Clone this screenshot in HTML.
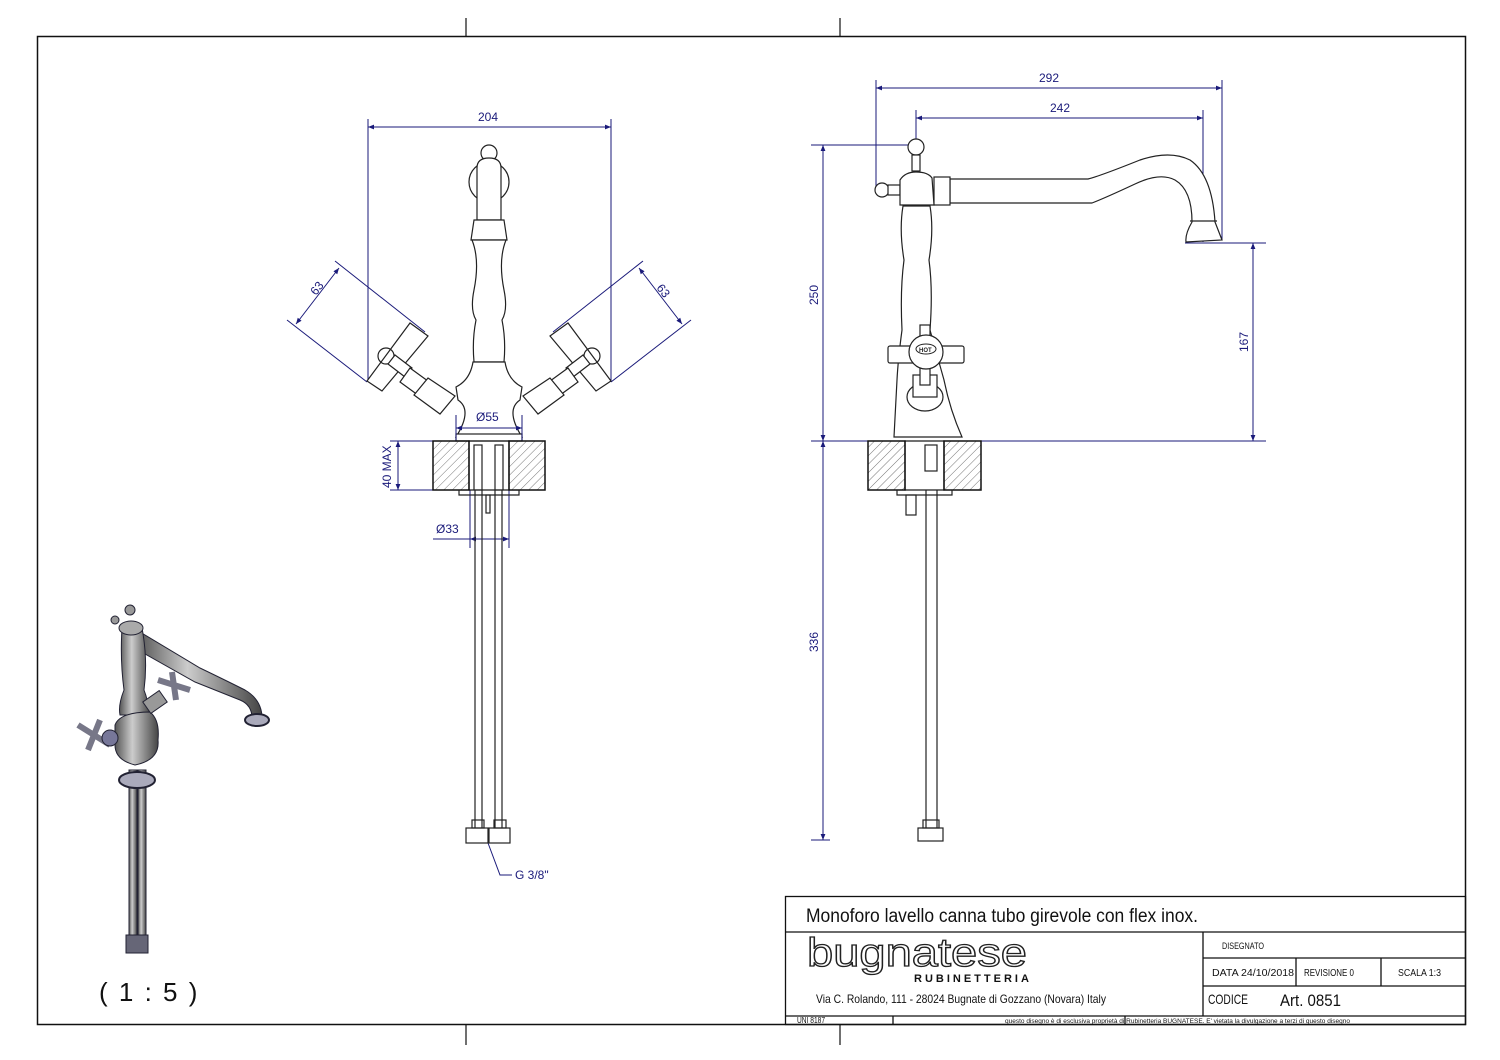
<!DOCTYPE html>
<html><head><meta charset="utf-8"><style>
html,body{margin:0;padding:0;background:#fff;}
svg{display:block;}
text{font-family:"Liberation Sans",sans-serif;}
.d{stroke:#1a1a7a;stroke-width:1;fill:none;}
.dt{fill:#1a1a7a;font-size:12px;}
.o{stroke:#222;stroke-width:1.2;fill:#fff;}
.ol{stroke:#222;stroke-width:1.2;fill:none;}
.t{fill:#111;}
</style></head><body>
<svg width="1500" height="1060" viewBox="0 0 1500 1060" xmlns="http://www.w3.org/2000/svg">
<defs>
<pattern id="h" width="6" height="6" patternUnits="userSpaceOnUse" patternTransform="rotate(45)">
<line x1="0" y1="0" x2="0" y2="6" stroke="#777" stroke-width="1"/></pattern>
<marker id="a" viewBox="0 0 10 10" refX="10" refY="5" markerWidth="8" markerHeight="6" orient="auto-start-reverse">
<path d="M0,1 L10,5 L0,9 z" fill="#1a1a7a"/></marker>
<linearGradient id="g" x1="0" x2="1"><stop offset="0" stop-color="#555"/><stop offset="0.4" stop-color="#ccc"/><stop offset="1" stop-color="#444"/></linearGradient>
</defs>
<rect width="1500" height="1060" fill="#fff"/>
<rect x="37.5" y="36.5" width="1428" height="988" fill="none" stroke="#111" stroke-width="1.5"/>
<g stroke="#111" stroke-width="1.2">
<line x1="466" y1="18" x2="466" y2="36"/><line x1="840" y1="18" x2="840" y2="36"/>
<line x1="466" y1="1025" x2="466" y2="1045"/><line x1="840" y1="1025" x2="840" y2="1045"/>
</g>

<!-- FRONT VIEW -->
<g class="d">
<line x1="368" y1="119" x2="368" y2="382"/><line x1="611" y1="119" x2="611" y2="382"/>
<line x1="368" y1="127" x2="611" y2="127" marker-start="url(#a)" marker-end="url(#a)"/>
<line x1="335" y1="261" x2="425" y2="332"/><line x1="287" y1="320" x2="367" y2="382"/>
<line x1="339" y1="268" x2="296" y2="324" marker-start="url(#a)" marker-end="url(#a)"/>
<line x1="643" y1="261" x2="553" y2="332"/><line x1="691" y1="320" x2="611" y2="382"/>
<line x1="639" y1="268" x2="682" y2="324" marker-start="url(#a)" marker-end="url(#a)"/>
<line x1="390" y1="441" x2="433" y2="441"/><line x1="390" y1="490" x2="433" y2="490"/>
<line x1="398" y1="441" x2="398" y2="490" marker-start="url(#a)" marker-end="url(#a)"/>
<line x1="470" y1="490" x2="470" y2="548"/><line x1="509" y1="490" x2="509" y2="548"/>
<line x1="433" y1="539" x2="509" y2="539"/>
<line x1="470" y1="539" x2="509" y2="539" marker-start="url(#a)" marker-end="url(#a)"/>
<polyline points="488,843 500,875 512,875"/>
</g>
<text class="dt" x="478" y="121">204</text>
<text class="dt" transform="translate(316,296) rotate(-52)">63</text>
<text class="dt" transform="translate(656,288) rotate(52)">63</text>
<text class="dt" transform="translate(391,488) rotate(-90)">40 MAX</text>
<text class="dt" x="436" y="533">Ø33</text>
<text class="dt" x="515" y="879">G 3/8"</text>

<g>
<circle class="o" cx="489" cy="153" r="8"/>
<path class="o" d="M469,182 a20,20 0 0 1 40,0 a20,20 0 0 1 -40,0z"/>
<path class="o" d="M477,220 L477,168 Q477,158 489,158 Q501,158 501,168 L501,220z"/>
<path class="o" d="M474,220 L504,220 L507,240 L471,240z"/>
<path class="o" d="M472,240 Q480,260 474,290 Q470,310 476,320 Q472,340 474,362 L504,362 Q506,340 502,320 Q508,310 504,290 Q498,260 506,240z"/>
<path class="o" d="M473,362 L505,362 Q508,380 522,387 L520,400 Q505,410 522,437 L456,437 Q473,410 458,400 L456,387 Q470,380 473,362z"/>
<rect class="o" x="456" y="434" width="66" height="7"/>
<polygon class="o" points="367,381 410,323 428,336 382,391"/>
<circle class="ol" cx="386" cy="356" r="8"/>
<path class="o" d="M395,355 L412,368 L405,377 L388,364z"/>
<path class="o" d="M410,368 L432,384 L422,398 L400,382z"/>
<path class="o" d="M428,378 L455,396 L440,414 L414,395z"/>
<polygon class="o" points="611,381 568,323 550,336 596,391"/>
<circle class="ol" cx="592" cy="356" r="8"/>
<path class="o" d="M583,355 L566,368 L573,377 L590,364z"/>
<path class="o" d="M568,368 L546,384 L556,398 L578,382z"/>
<path class="o" d="M550,378 L523,396 L538,414 L564,395z"/>
</g>
<!-- Ø55 dim on top -->
<g class="d">
<line x1="456" y1="415" x2="456" y2="441"/><line x1="522" y1="415" x2="522" y2="441"/>
<line x1="456" y1="428" x2="522" y2="428" marker-start="url(#a)" marker-end="url(#a)"/>
</g>
<text class="dt" x="476" y="421">Ø55</text>

<rect x="433" y="441" width="36" height="49" fill="url(#h)" stroke="#111" stroke-width="1.5"/>
<rect x="509" y="441" width="36" height="49" fill="url(#h)" stroke="#111" stroke-width="1.5"/>
<rect x="469" y="441" width="40" height="49" fill="none" stroke="#111" stroke-width="1.2"/>
<g class="ol">
<rect x="474" y="445" width="8" height="45"/><rect x="495" y="445" width="8" height="45"/>
<path d="M459,490 L459,495 L519,495 L519,490"/>
<line x1="475" y1="490" x2="475" y2="828"/><line x1="482" y1="490" x2="482" y2="828"/>
<line x1="495" y1="490" x2="495" y2="828"/><line x1="502" y1="490" x2="502" y2="828"/>
<rect x="486" y="495" width="4" height="18"/>
<rect x="472" y="820" width="12" height="8"/><rect x="494" y="820" width="12" height="8"/>
<rect x="466" y="828" width="22" height="15"/><rect x="489" y="828" width="21" height="15"/>
</g>

<!-- SIDE VIEW -->
<g class="d">
<line x1="876" y1="80" x2="876" y2="186"/><line x1="1222" y1="80" x2="1222" y2="240"/>
<line x1="876" y1="88" x2="1222" y2="88" marker-start="url(#a)" marker-end="url(#a)"/>
<line x1="916" y1="110" x2="916" y2="147"/><line x1="1203" y1="110" x2="1203" y2="242"/>
<line x1="916" y1="118" x2="1203" y2="118" marker-start="url(#a)" marker-end="url(#a)"/>
<line x1="811" y1="145" x2="916" y2="145"/>
<line x1="823" y1="145" x2="823" y2="441" marker-start="url(#a)" marker-end="url(#a)"/>
<line x1="1185" y1="243" x2="1266" y2="243"/>
<line x1="1253" y1="243" x2="1253" y2="441" marker-start="url(#a)" marker-end="url(#a)"/>
<line x1="811" y1="441" x2="1266" y2="441"/>
<line x1="823" y1="441" x2="823" y2="840" marker-start="url(#a)" marker-end="url(#a)"/>
<line x1="811" y1="840" x2="830" y2="840"/>
</g>
<text class="dt" x="1039" y="82">292</text>
<text class="dt" x="1050" y="112">242</text>
<text class="dt" transform="translate(818,305) rotate(-90)">250</text>
<text class="dt" transform="translate(1248,352) rotate(-90)">167</text>
<text class="dt" transform="translate(818,652) rotate(-90)">336</text>

<g>
<path class="o" d="M950,179 L1088,179 Q1100,176 1140,160 Q1170,150 1190,160 Q1212,175 1215,222 L1222,240 L1186,242 Q1185,234 1192,222 Q1192,190 1175,180 Q1160,172 1135,184 Q1105,198 1092,203 L950,203z"/>
<line class="ol" x1="1190" y1="221" x2="1217" y2="221"/>
<rect class="o" x="934" y="177" width="16" height="28"/>
<circle class="o" cx="916" cy="147" r="8"/>
<rect class="o" x="912" y="155" width="8" height="16"/>
<circle class="o" cx="882" cy="190" r="7"/>
<rect class="o" x="888" y="185" width="12" height="10"/>
<path class="o" d="M900,180 Q905,172 916,172 Q928,172 932,178 L934,205 L900,205z"/>
<path class="o" d="M903,206 Q899,230 904,260 Q900,290 902,330 Q898,360 897,380 L894,437 L962,437 Q950,410 944,380 L930,330 Q933,290 929,260 Q934,230 930,206z"/>
<ellipse class="o" cx="925" cy="397" rx="18" ry="14"/>
<rect class="o" x="913" y="375" width="24" height="22"/>
<rect class="o" x="920" y="325" width="10" height="60"/>
<rect class="o" x="888" y="346" width="76" height="17" rx="2"/>
<circle class="o" cx="926" cy="352" r="17"/>
<ellipse cx="926" cy="349" rx="10" ry="5" fill="none" stroke="#222"/>
<text x="919" y="352" font-size="6" font-weight="bold" fill="#222">HOT</text>
</g>
<rect x="868" y="441" width="37" height="49" fill="url(#h)" stroke="#111" stroke-width="1.5"/>
<rect x="944" y="441" width="37" height="49" fill="url(#h)" stroke="#111" stroke-width="1.5"/>
<rect x="905" y="441" width="39" height="49" fill="none" stroke="#111" stroke-width="1.2"/>
<g class="ol">
<rect x="925" y="445" width="12" height="26"/>
<path d="M897,490 L897,495 L952,495 L952,490"/>
<rect x="906" y="495" width="10" height="20"/>
<line x1="926" y1="490" x2="926" y2="828"/><line x1="937" y1="490" x2="937" y2="828"/>
<rect x="923" y="820" width="16" height="8"/>
<rect x="918" y="828" width="25" height="13"/>
</g>

<!-- ISO VIEW -->
<g stroke="#223" stroke-width="1">
<rect x="129" y="770" width="8" height="180" fill="url(#g)"/>
<rect x="138" y="770" width="8" height="180" fill="url(#g)"/>
<rect x="126" y="935" width="22" height="18" fill="#667"/>
<ellipse cx="137" cy="780" rx="18" ry="8" fill="#aab" stroke="#223" stroke-width="2"/>
<path d="M140,632 L200,668 Q225,680 245,690 Q262,700 262,718 L252,718 Q252,705 240,700 L195,682 L138,650z" fill="url(#g)"/>
<ellipse cx="257" cy="720" rx="12" ry="6" fill="#aab" stroke-width="2"/>
<path d="M122,628 Q120,660 124,690 Q118,705 120,715 L150,715 Q148,700 144,690 Q148,660 142,628z" fill="url(#g)"/>
<path d="M115,725 Q120,712 150,712 Q160,720 158,740 Q160,760 135,765 Q115,760 115,745z" fill="url(#g)"/>
<circle cx="130" cy="610" r="5" fill="#999"/>
<circle cx="115" cy="620" r="4" fill="#999"/>
<ellipse cx="131" cy="628" rx="12" ry="7" fill="#aaa"/>
<rect x="145" y="695" width="20" height="14" fill="#999" transform="rotate(-35 155 702)"/>
<path d="M158,680 L190,690 M172,672 L176,700" stroke="#778" stroke-width="6"/>
<path d="M78,725 L110,745 M100,720 L88,750" stroke="#778" stroke-width="6"/>
<circle cx="110" cy="738" r="8" fill="#779"/>
</g>
<text x="99" y="1001" font-size="26" fill="#111" letter-spacing="2">( 1 : 5 )</text>

<!-- TITLE BLOCK -->
<g stroke="#111" stroke-width="1.3" fill="none">
<rect x="785.5" y="896.5" width="680" height="128"/>
<line x1="785" y1="932" x2="1466" y2="932"/>
<line x1="1203" y1="932" x2="1203" y2="1016"/>
<line x1="1203" y1="958" x2="1466" y2="958"/>
<line x1="1203" y1="986" x2="1466" y2="986"/>
<line x1="1296" y1="958" x2="1296" y2="986"/>
<line x1="1381" y1="958" x2="1381" y2="986"/>
<line x1="785" y1="1016" x2="1466" y2="1016"/>
<line x1="893" y1="1016" x2="893" y2="1025"/>
<line x1="1125" y1="1016" x2="1125" y2="1025"/>
</g>
<text class="t" x="806" y="922" font-size="19" textLength="392" lengthAdjust="spacingAndGlyphs">Monoforo lavello canna tubo girevole con flex inox.</text>
<text x="807" y="966" font-size="40" fill="#fff" stroke="#222" stroke-width="1.3" textLength="220" lengthAdjust="spacingAndGlyphs">bugnatese</text>
<text class="t" x="914" y="982" font-size="11" font-weight="bold" letter-spacing="3">RUBINETTERIA</text>
<text class="t" x="816" y="1003" font-size="12" textLength="290" lengthAdjust="spacingAndGlyphs">Via C. Rolando, 111 - 28024 Bugnate di Gozzano (Novara) Italy</text>
<text class="t" x="1222" y="949" font-size="9" textLength="42" lengthAdjust="spacingAndGlyphs">DISEGNATO</text>
<text class="t" x="1212" y="976" font-size="10" textLength="82" lengthAdjust="spacingAndGlyphs">DATA    24/10/2018</text>
<text class="t" x="1304" y="976" font-size="10" textLength="50" lengthAdjust="spacingAndGlyphs">REVISIONE 0</text>
<text class="t" x="1398" y="976" font-size="10" textLength="43" lengthAdjust="spacingAndGlyphs">SCALA   1:3</text>
<text class="t" x="1208" y="1004" font-size="14" textLength="40" lengthAdjust="spacingAndGlyphs">CODICE</text>
<text class="t" x="1280" y="1006" font-size="17" textLength="61" lengthAdjust="spacingAndGlyphs">Art. 0851</text>
<text class="t" x="797" y="1023" font-size="8" textLength="28" lengthAdjust="spacingAndGlyphs">UNI 8187</text>
<text class="t" x="1005" y="1023" font-size="6" textLength="345" lengthAdjust="spacingAndGlyphs">questo disegno è di esclusiva proprietà di Rubinetteria BUGNATESE. E' vietata la divulgazione a terzi di questo disegno</text>
</svg>
</body></html>
